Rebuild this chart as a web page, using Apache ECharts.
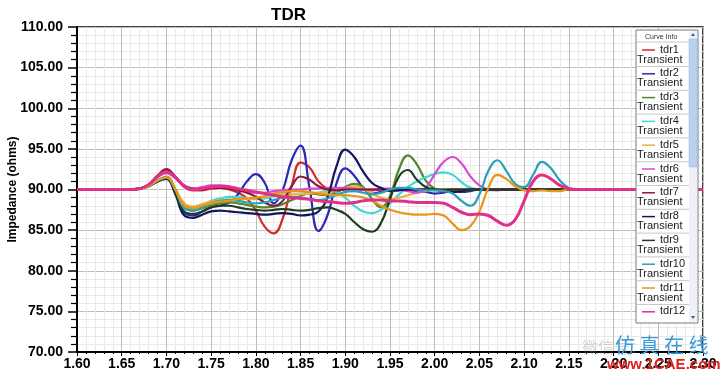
<!DOCTYPE html>
<html>
<head>
<meta charset="utf-8">
<script src="https://cdn.jsdelivr.net/npm/echarts@6/dist/echarts.min.js"></script>
<style>html,body{margin:0;padding:0;background:#fff;}#c{width:727px;height:373px;}</style>
</head>
<body>
<div id="c"></div>
<script>
// x positions (ns) for every sample: 1.60 .. 2.30 step 0.01
const xs = [1.60,1.61,1.62,1.63,1.64,1.65,1.66,1.67,1.68,1.69,
            1.70,1.71,1.72,1.73,1.74,1.75,1.76,1.77,1.78,1.79,
            1.80,1.81,1.82,1.83,1.84,1.85,1.86,1.87,1.88,1.89,
            1.90,1.91,1.92,1.93,1.94,1.95,1.96,1.97,1.98,1.99,
            2.00,2.01,2.02,2.03,2.04,2.05,2.06,2.07,2.08,2.09,
            2.10,2.11,2.12,2.13,2.14,2.15,2.16,2.17,2.18,2.19,
            2.20,2.21,2.22,2.23,2.24,2.25,2.26,2.27,2.28,2.29,2.30];

const seriesNames = ['tdr1','tdr2','tdr3','tdr4','tdr5','tdr6','tdr7','tdr8','tdr9','tdr10','tdr11','tdr12'];
const seriesSub = 'Transient';
const seriesColors = ['#d42a2a','#2a2ab4','#55852c','#3fd7d7','#e8b040','#d84ad8','#8a1a3a','#141460','#1f3f1f','#2aa0b8','#e8961a','#e0308a'];

const tdr1 = [90,90,90,90,90,90,90,90.1,90.5,91.6,
  92.3,91.5,90.3,89.9,89.9,90.1,90.2,90.0,89.6,88.9,
  87.4,85.4,84.6,86.4,90.4,93.3,92.7,91.0,90.1,89.9,
  90.0,90.1,90.0,89.9,90.0,90.0,90.1,90.0,90.0,90.0,
  90.0,90.0,90.0,89.9,90.0,90.0,90.0,90.0,90.0,90.0,
  90,90,90,90,90,90,90,90,90,90,
  90,90,90,90,90,90,90,90,90,90,90];
const tdr2 = [90,90,90,90,90,90,90,90.1,90.4,91.0,
  91.4,89.6,87.1,86.8,87.3,87.8,88.0,88.4,89.4,91.0,
  91.9,90.8,88.3,89.9,93.6,95.4,90.2,84.9,86.8,90.7,
  92.6,91.7,90.2,89.5,89.7,90.0,90.1,90.0,89.8,89.7,
  89.5,89.6,89.9,89.7,89.8,90.0,90.0,90.0,90.0,90.0,
  90,90,90,90,90,90,90,90,90,90,
  90,90,90,90,90,90,90,90,90,90,90];
const tdr3 = [90,90,90,90,90,90,90,90.1,90.4,91.1,
  91.6,90.0,87.9,87.4,87.7,88.1,88.3,88.4,88.3,88.1,
  87.9,87.8,87.9,88.2,88.7,89.2,89.5,89.4,89.3,89.6,
  90.3,90.7,90.3,88.8,87.8,89.2,92.5,94.2,93.1,91.1,
  90.1,89.8,89.9,90.0,90.0,90.0,90.0,90.0,90.0,90.0,
  90,90,90,90,90,90,90,90,90,90,
  90,90,90,90,90,90,90,90,90,90,90];
const tdr4 = [90,90,90,90,90,90,90,90.1,90.4,91.1,
  91.5,90.0,88.1,87.8,88.1,88.6,88.9,89.1,89.1,88.9,
  88.8,88.9,89.2,89.6,89.8,89.8,89.6,89.6,89.9,89.7,
  89.0,88.0,87.3,87.1,87.5,88.3,89.4,90.3,91.0,91.5,
  91.9,92.1,91.8,90.9,90.2,90.0,89.9,90.0,90.0,90.0,
  90,90,90,90,90,90,90,90,90,90,
  90,90,90,90,90,90,90,90,90,90,90];
const tdr5 = [90,90,90,90,90,90,90,90.1,90.4,91.1,
  91.5,90.1,88.3,87.9,88.2,88.5,88.7,88.8,88.8,88.8,
  88.9,89.1,89.3,89.4,89.4,89.4,89.5,89.6,89.7,89.9,
  90.2,90.4,90.1,89.5,89.0,88.8,89.0,89.3,89.6,89.8,
  90.0,90.0,90.0,90.0,90.0,90.0,90.0,90.0,90.0,90.0,
  90,90,90,90,90,90,90,90,90,90,
  90,90,90,90,90,90,90,90,90,90,90];
const tdr6 = [90,90,90,90,90,90,90,90.1,90.5,91.5,
  92.0,91.4,90.4,90.1,90.3,90.5,90.5,90.4,90.1,89.8,
  89.6,89.6,89.8,89.9,90.0,90.0,90.1,90.1,90.2,90.2,
  90.2,90.1,90.0,90.0,90.1,90.1,90.0,89.8,89.6,90.2,
  91.9,93.4,94.0,93.2,91.6,90.5,90.0,89.9,90.0,90.0,
  90,90,90,90,90,90,90,90,90,90,
  90,90,90,90,90,90,90,90,90,90,90];
const tdr7 = [90,90,90,90,90,90,90,90.1,90.6,91.7,
  92.5,91.6,90.5,90.1,90.0,90.2,90.2,90.1,89.9,89.6,
  89.1,88.4,88.0,88.6,90.4,91.6,91.2,90.4,90.0,89.9,
  90.0,90.0,90.0,90.0,90.0,90.0,90.0,90.0,90.0,90.0,
  90.0,90.0,90.0,90.0,90.0,90.0,90.0,90.0,90.0,90.0,
  90,90,90,90,90,90,90,90,90,90,
  90,90,90,90,90,90,90,90,90,90,90];
const tdr8 = [90,90,90,90,90,90,90,90.1,90.4,91.0,
  91.3,89.4,86.8,86.5,86.9,87.3,87.4,87.3,87.2,87.1,
  87.0,86.9,87.0,87.1,87.0,86.8,86.9,87.3,89.0,92.8,
  94.9,94.0,92.2,90.8,90.2,89.8,89.9,90.0,90.0,90.0,
  90.0,89.8,89.7,89.8,90.0,90.0,90.0,90.0,90.0,90.0,
  90,90,90,90,90,90,90,90,90,90,
  90,90,90,90,90,90,90,90,90,90,90];
const tdr9 = [90,90,90,90,90,90,90,90.1,90.4,91.0,
  91.4,89.6,87.3,87.0,87.3,87.8,88.0,88.0,87.8,87.6,
  87.5,87.4,87.5,87.6,87.5,87.4,87.5,87.7,87.8,87.5,
  87.0,86.0,85.1,84.8,85.9,88.8,91.6,92.4,91.2,90.3,
  90.0,89.9,90.0,90.0,90.0,90.0,90.0,90.0,90.0,90.0,
  90,90,90,90,90,90,90,90,90,90,
  90,90,90,90,90,90,90,90,90,90,90];
const tdr10 = [90,90,90,90,90,90,90,90.1,90.4,91.1,
  91.5,89.9,87.7,87.4,87.8,88.3,88.6,88.7,88.6,88.4,
  88.3,88.4,88.7,89.0,89.1,89.0,88.8,88.7,88.9,89.3,
  89.7,89.8,89.6,89.4,89.6,90.0,90.2,90.2,90.0,89.9,
  89.9,89.8,89.5,88.6,88.0,89.4,92.3,93.6,92.3,90.7,
  90.3,91.8,93.4,92.6,91.1,90.2,90.0,90.0,90.0,90.0,
  90,90,90,90,90,90,90,90,90,90,90];
const tdr11 = [90,90,90,90,90,90,90,90.1,90.4,91.1,
  91.5,90.0,88.0,87.7,88.0,88.3,88.5,88.6,88.8,88.9,
  89.0,89.2,89.5,89.7,89.8,89.8,89.7,89.5,89.4,89.3,
  89.3,89.2,89.0,88.6,88.0,87.5,87.2,87.0,86.9,86.9,
  87.0,86.8,85.8,85.0,85.5,87.3,90.2,91.8,91.3,90.4,
  89.9,89.8,89.9,89.8,89.8,90.0,90.0,90.0,90.0,90.0,
  90,90,90,90,90,90,90,90,90,90,90];
const tdr12 = [90,90,90,90,90,90,90,90.1,90.6,91.6,
  92.2,91.5,90.4,90.0,90.1,90.3,90.4,90.3,90.1,89.9,
  89.7,89.5,89.3,89.1,89.0,88.9,88.8,88.6,88.5,88.4,
  88.3,88.4,88.6,88.7,88.7,88.6,88.6,88.5,88.4,88.4,
  88.4,88.3,87.8,87.2,86.9,87.0,86.8,86.1,85.6,86.3,
  88.6,91.0,91.8,91.3,90.5,90.1,90.0,90.0,90.0,90.0,
  90,90,90,90,90,90,90,90,90,90,90];

const seriesValues = [tdr1,tdr2,tdr3,tdr4,tdr5,tdr6,tdr7,tdr8,tdr9,tdr10,tdr11,tdr12];
const seriesWidths = [2.2,2.2,2.2,2.2,2.2,2.2,2.2,2.2,2.2,2.2,2.2,3];

const chart = echarts.init(document.getElementById('c'), null, {renderer: 'canvas'});
const FONT = '"Liberation Sans", Arial, sans-serif';

const series = seriesNames.map((n, i) => ({
  name: n,
  type: 'line',
  smooth: 0.45,
  symbol: 'none',
  silent: true,
  animation: false,
  lineStyle: {color: seriesColors[i], width: seriesWidths[i]},
  itemStyle: {color: seriesColors[i]},
  data: xs.map((x, k) => [x, seriesValues[i][k]])
}));

// legend panel as graphics built from names/colors
const LX = 636, LY = 30, LW = 62, LH = 293, PITCH = 23.8, Y0 = 44;
const g = [];
g.push({type:'rect', shape:{x:LX, y:LY, width:LW, height:LH}, style:{fill:'#fff', stroke:'#7a7a7a', lineWidth:1}, z:100});
g.push({type:'rect', shape:{x:LX+53, y:LY+1, width:8, height:LH-2}, style:{fill:'#eef2f8', stroke:null}, z:101});
g.push({type:'rect', shape:{x:LX+53, y:LY+9, width:8, height:128}, style:{fill:'#b9d1ee', stroke:'#9bb5d8', lineWidth:0.5}, z:102});
g.push({type:'polygon', shape:{points:[[LX+55,LY+6],[LX+57,LY+3],[LX+59,LY+6]]}, style:{fill:'#3a5a9a'}, z:103});
g.push({type:'polygon', shape:{points:[[LX+55,LY+LH-7],[LX+57,LY+LH-4],[LX+59,LY+LH-7]]}, style:{fill:'#3a5a9a'}, z:103});
g.push({type:'text', x:LX+9, y:LY+4, style:{text:'Curve Info', font:'7px '+FONT, fill:'#333'}, z:103});
g.push({type:'line', shape:{x1:LX, y1:LY+12, x2:LX+53, y2:LY+12}, style:{stroke:'#c8c8c8', lineWidth:1}, z:103});
seriesNames.forEach((n, i) => {
  const y = Y0 + i * PITCH;
  const last = i === seriesNames.length - 1;
  g.push({type:'line', shape:{x1:LX+6, y1:y+6, x2:LX+19, y2:y+6}, style:{stroke:seriesColors[i], lineWidth:1.5}, z:103});
  g.push({type:'text', x:LX+24, y:y, style:{text:n, font:'11px '+FONT, fill:'#222'}, z:103});
  if (!last) {
    g.push({type:'text', x:LX+1, y:y+10, style:{text:seriesSub, font:'11px '+FONT, fill:'#222'}, z:103});
    g.push({type:'line', shape:{x1:LX, y1:y+22.5, x2:LX+53, y2:y+22.5}, style:{stroke:'#c8c8c8', lineWidth:1}, z:103});
  }
});
// watermark text
g.push({type:'text', x:582, y:339, style:{text:'微信号：', font:'16px "Noto Sans CJK SC"', fill:'rgba(140,140,140,0.35)'}, z:110});
g.push({type:'text', x:615, y:335, style:{text:'仿 真 在 线', font:'20px "Noto Sans CJK SC"', fill:'#3a9ad9'}, z:111});
g.push({type:'text', x:607, y:357, style:{text:'www.1CAE.com', font:'bold 15px '+FONT, fill:'#e02020'}, z:111});

const option = {
  animation: false,
  backgroundColor: '#fff',
  title: {text: 'TDR', left: 266, top: 2, textStyle: {fontFamily: FONT, fontWeight: 'bold', fontSize: 17, color: '#000'}},
  grid: {left: 77, right: 24, top: 27, bottom: 21, containLabel: false, outerBoundsMode: 'none',
         show: true, borderColor: '#000', borderWidth: 1.5, backgroundColor: '#fff'},
  xAxis: {
    type: 'value', min: 1.6, max: 2.3, interval: 0.05,
    axisLine: {show: true, lineStyle: {color: '#000', width: 2}},
    axisTick: {show: true, length: 4, lineStyle: {color: '#000'}},
    minorTick: {show: true, splitNumber: 5, length: 2, lineStyle: {color: '#000'}},
    splitLine: {show: true, lineStyle: {color: '#bdbdbd', width: 1}},
    minorSplitLine: {show: true, lineStyle: {color: '#e9e9e9', width: 1}},
    axisLabel: {formatter: v => v.toFixed(2), color: '#000', fontFamily: FONT, fontWeight: 'bold', fontSize: 14, margin: 5}
  },
  yAxis: {
    type: 'value', min: 70, max: 110, interval: 5,
    name: 'Impedance (ohms)', nameLocation: 'middle', nameGap: 58, nameRotate: 90, nameMoveOverlap: false,
    nameTextStyle: {fontFamily: FONT, fontWeight: 'bold', fontSize: 12, color: '#000'},
    axisLine: {show: true, lineStyle: {color: '#000', width: 2}},
    axisTick: {show: true, length: 9, lineStyle: {color: '#000', width: 1.5}},
    minorTick: {show: true, splitNumber: 5, length: 6, lineStyle: {color: '#000', width: 1.2}},
    splitLine: {show: true, lineStyle: {color: '#bdbdbd', width: 1}},
    minorSplitLine: {show: true, lineStyle: {color: '#e9e9e9', width: 1}},
    axisLabel: {formatter: v => v.toFixed(2), color: '#000', fontFamily: FONT, fontWeight: 'bold', fontSize: 14, margin: 14}
  },
  series: series,
  graphic: g
};
chart.setOption(option);
</script>
</body>
</html>
